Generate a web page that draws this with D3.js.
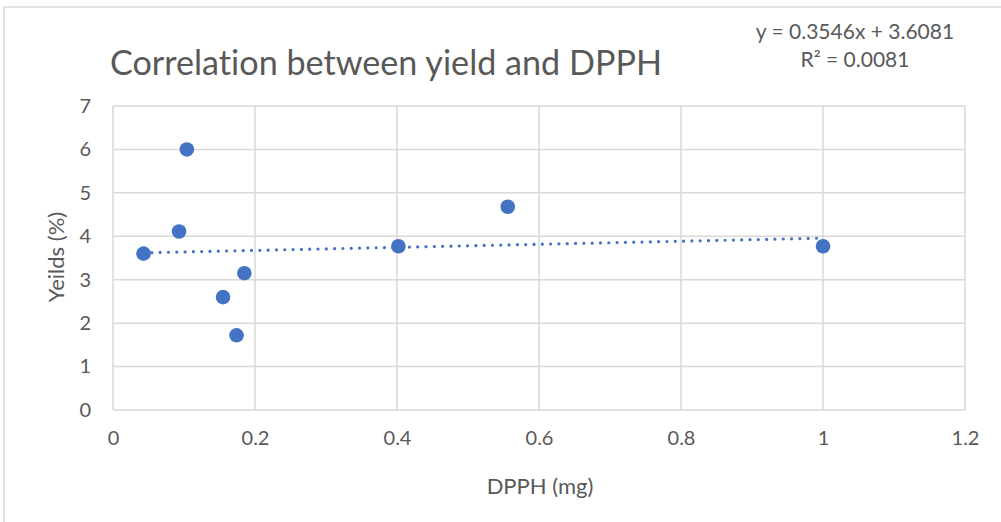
<!DOCTYPE html>
<html>
<head>
<meta charset="utf-8">
<script src="https://cdn.jsdelivr.net/npm/d3@7"></script>
<style>
  html, body { margin: 0; padding: 0; background: #fff; }
  svg { display: block; }
  text { font-family: Lato, "Open Sans", sans-serif; fill: #595959; font-variant-ligatures: none; }
</style>
</head>
<body>
<svg id="chart" width="1001" height="522"></svg>
<script>
const dpph   = [0.043, 0.093, 0.104, 0.155, 0.174, 0.185, 0.402, 0.556, 1.0];
const yields = [3.60, 4.11, 6.00, 2.60, 1.72, 3.15, 3.77, 4.68, 3.77];
const xTicks = [0, 0.2, 0.4, 0.6, 0.8, 1, 1.2];
const yTicks = [0, 1, 2, 3, 4, 5, 6, 7];
const titleText = "Correlation between yield and DPPH";
const xTitle = "DPPH (mg)";
const yTitle = "Yeilds (%)";
const eqText = "y = 0.3546x + 3.6081";
const r2Text = "R² = 0.0081";

const svg = d3.select("#chart");
const margin = {left: 113, right: 1001 - 965, top: 106, bottom: 522 - 410};
const W = 1001, H = 522;

// chart border
svg.append("path").attr("d", `M4,${H} L4,7 L${W},7`).attr("fill", "none")
  .attr("stroke", "#d9d9d9").attr("stroke-width", 1.5);

const x = d3.scaleLinear().domain([0, 1.2]).range([margin.left, W - margin.right]);
const y = d3.scaleLinear().domain([0, 7]).range([H - margin.bottom, margin.top]);

// gridlines
const g = svg.append("g");
g.selectAll("line.v").data(xTicks).join("line").attr("class", "v")
  .attr("x1", d => x(d)).attr("x2", d => x(d)).attr("y1", y(0)).attr("y2", y(7))
  .attr("stroke", "#d9d9d9").attr("stroke-width", 1.5);
g.selectAll("line.h").data(yTicks).join("line").attr("class", "h")
  .attr("y1", d => y(d)).attr("y2", d => y(d)).attr("x1", x(0)).attr("x2", x(1.2))
  .attr("stroke", "#d9d9d9").attr("stroke-width", 1.5);

// axes labels via d3 axes
const xAxis = svg.append("g").attr("transform", `translate(0,${y(0)})`)
  .call(d3.axisBottom(x).tickValues(xTicks).tickSize(0).tickPadding(21).tickFormat(d => String(d)));
xAxis.select(".domain").remove();
xAxis.selectAll("text").attr("font-size", 20).style("font-family", "Lato, sans-serif").attr("fill", "#595959");

const yAxis = svg.append("g").attr("transform", `translate(${x(0)},0)`)
  .call(d3.axisLeft(y).tickValues(yTicks).tickSize(0).tickPadding(22).tickFormat(d => String(d)));
yAxis.select(".domain").remove();
yAxis.selectAll("text").attr("font-size", 20).style("font-family", "Lato, sans-serif").attr("fill", "#595959");

// trendline (least squares from data)
const mx = d3.mean(dpph), my = d3.mean(yields);
const slope = d3.sum(dpph, (d, i) => (d - mx) * (yields[i] - my)) / d3.sum(dpph, d => (d - mx) * (d - mx));
const intercept = my - slope * mx;
const xmin = d3.min(dpph), xmax = d3.max(dpph);
svg.append("line")
  .attr("x1", x(xmin)).attr("y1", y(slope * xmin + intercept))
  .attr("x2", x(xmax)).attr("y2", y(slope * xmax + intercept))
  .attr("stroke", "#4472c4").attr("stroke-width", 3.2)
  .attr("stroke-linecap", "round").attr("stroke-dasharray", "0.01 8.3");

// points
svg.selectAll("circle.pt").data(dpph).join("circle").attr("class", "pt")
  .attr("cx", d => x(d)).attr("cy", (d, i) => y(yields[i])).attr("r", 7.3)
  .attr("fill", "#4472c4");

// titles
svg.append("text").attr("x", 110).attr("y", 75).attr("font-size", 34)
  .attr("textLength", 552).attr("lengthAdjust", "spacingAndGlyphs").text(titleText);
svg.append("text").attr("x", 540).attr("y", 494).attr("text-anchor", "middle")
  .attr("font-size", 22).text(xTitle);
svg.append("text").attr("transform", `translate(64,${y(3.5) - 1}) rotate(-90)`)
  .attr("text-anchor", "middle").attr("font-size", 22).text(yTitle);
svg.append("text").attr("x", 855).attr("y", 39).attr("text-anchor", "middle")
  .attr("font-size", 21).text(eqText);
svg.append("text").attr("x", 855).attr("y", 67).attr("text-anchor", "middle")
  .attr("font-size", 21).text(r2Text);
</script>
</body>
</html>
